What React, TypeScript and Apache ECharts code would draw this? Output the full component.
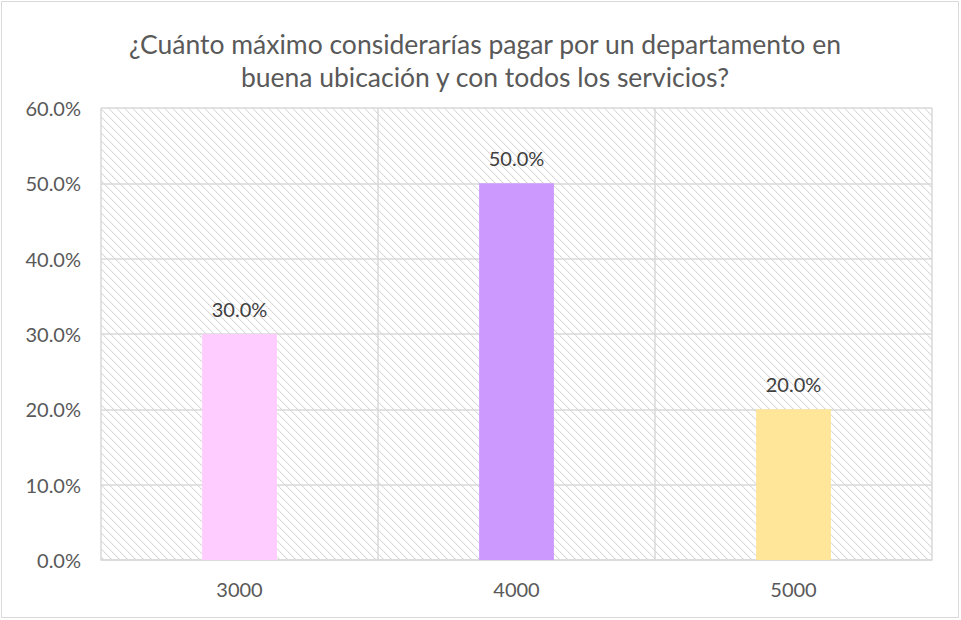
import React, { useEffect, useRef } from "react";
import * as echarts from "echarts";

const categories = ["3000", "4000", "5000"];
const values = [0.3, 0.5, 0.2];
const barColors = ["#FFCCFF", "#CC99FF", "#FFE699"];
const titleLines = [
  "¿Cuánto máximo considerarías pagar por un departamento en",
  "buena ubicación y con todos los servicios?",
];

function makeHatch(): string {
  const c = document.createElement("canvas");
  const n = 8;
  c.width = n;
  c.height = n;
  const ctx = c.getContext("2d")!;
  ctx.fillStyle = "#ffffff";
  ctx.fillRect(0, 0, n, n);
  for (let i = 0; i < n; i++) {
    ctx.fillStyle = i % 2 === 0 ? "#d4d4d4" : "#e2e2e2";
    ctx.fillRect(i, i, 1, 1);
    ctx.fillStyle = "#f2f2f2";
    ctx.fillRect((i + 1) % n, i, 1, 1);
  }
  return c.toDataURL();
}

export default function App() {
  const ref = useRef<HTMLDivElement>(null);
  useEffect(() => {
    document.body.style.margin = "0";
    const chart = echarts.init(ref.current!, undefined, { renderer: "svg" });
    const font = "Lato, 'Open Sans', sans-serif";
    chart.setOption({
      animation: false,
      backgroundColor: "#ffffff",
      title: {
        text: titleLines.join("\n"),
        left: 480,
        top: 22,
        textAlign: "center",
        textStyle: {
          color: "#595959",
          fontFamily: font,
          fontSize: 26.5,
          fontWeight: "normal",
          lineHeight: 33,
        },
      },
      graphic: [
        {
          type: "rect",
          shape: { x: 1.5, y: 1.5, width: 957, height: 616 },
          style: { fill: "none", stroke: "#d9d9d9", lineWidth: 1 },
          silent: true,
          z: -1,
        },
      ],
      grid: {
        left: 101,
        right: 29,
        top: 108,
        bottom: 60,
        show: true,
        backgroundColor: { image: makeHatch(), repeat: "repeat" },
        borderWidth: 0,
      },
      xAxis: {
        type: "category",
        data: categories,
        axisLine: { show: true, lineStyle: { color: "#d9d9d9", width: 1.5 } },
        axisTick: { show: false },
        splitLine: { show: true, lineStyle: { color: "#d9d9d9", width: 1.5 } },
        axisLabel: {
          color: "#595959",
          fontFamily: font,
          fontSize: 20,
          margin: 19,
        },
      },
      yAxis: {
        type: "value",
        min: 0,
        max: 0.6,
        interval: 0.1,
        axisLine: { show: false },
        axisTick: { show: false },
        splitLine: { show: true, lineStyle: { color: "#d9d9d9", width: 1.5 } },
        axisLabel: {
          color: "#595959",
          fontFamily: font,
          fontSize: 20,
          margin: 20,
          formatter: (v: number) => (v * 100).toFixed(1) + "%",
        },
      },
      series: [
        {
          type: "bar",
          barWidth: "27%",
          data: values.map((v, i) => ({
            value: v,
            itemStyle: { color: barColors[i] },
          })),
          label: {
            show: true,
            position: "top",
            distance: 15,
            color: "#404040",
            fontFamily: font,
            fontSize: 20,
            formatter: (p: any) => (p.value * 100).toFixed(1) + "%",
          },
        },
      ],
    });
    return () => chart.dispose();
  }, []);
  return (
    <div
      ref={ref}
      style={{ position: "absolute", left: 0, top: 0, width: 961, height: 620 }}
    />
  );
}
